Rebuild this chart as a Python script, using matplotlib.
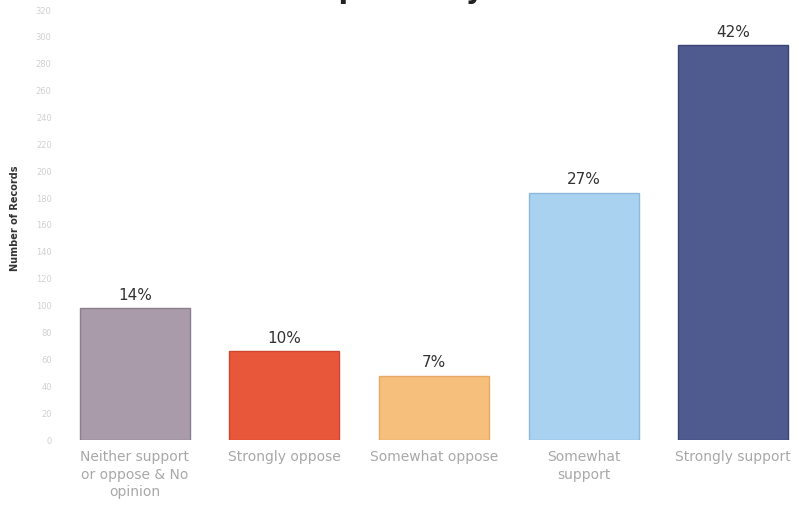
import numpy as np
import matplotlib
matplotlib.use("Agg")
import matplotlib.pyplot as plt

# categories, record counts and the printed shares
categories = ["Neither support\nor oppose & No\nopinion", "Strongly oppose",
              "Somewhat oppose", "Somewhat\nsupport", "Strongly support"]
counts = [98, 66, 48, 184, 294]
percents = [14, 10, 7, 27, 42]
colors = ["#a99ba9", "#e9573b", "#f6bf7c", "#a9d1f0", "#4f5a8e"]
edges = ["#8c7f8c", "#cc4530", "#e8a964", "#8fb9dc", "#3b4574"]
yticks = list(range(0, 321, 20))

fig = plt.figure(figsize=(7.99, 5.12), dpi=100)
ax = fig.add_axes([60 / 799, 72 / 512, 1 - 60 / 799, 430 / 512])

x = np.arange(len(categories))
bars = ax.bar(x, counts, width=0.735, color=colors, edgecolor=edges, linewidth=1.0)

for b, p in zip(bars, percents):
    ax.text(b.get_x() + b.get_width() / 2, b.get_height() + 4, "%d%%" % p,
            ha="center", va="bottom", fontsize=11, color="#333333")

ax.set_xlim(-0.5, 4.44)
ax.set_ylim(0, 320)
ax.set_xticks(x)
ax.set_xticklabels(categories, fontsize=10, color="#a8a8a8", linespacing=1.35)
ax.set_yticks(yticks)
ax.set_yticklabels([str(v) for v in yticks], fontsize=6, color="#d0d0d0")
ax.tick_params(axis="both", length=0, pad=7)
ax.tick_params(axis="y", pad=6)
for s in ax.spines.values():
    s.set_visible(False)

fig.text(15 / 799, 1 - 218 / 512, "Number of Records", rotation=90,
         ha="center", va="center", fontsize=7, fontweight="bold", color="#333333")

# title is cut off by the top edge in the reference, only descenders show
fig.text(0.5, 1.004, "Opinion by", ha="center", va="baseline",
         fontsize=20, fontweight="bold", color="#222222")

fig.savefig("out.png", dpi=100)
